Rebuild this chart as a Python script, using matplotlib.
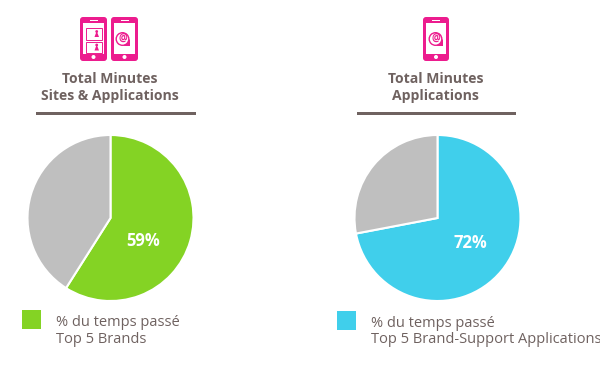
import matplotlib

matplotlib.use("Agg")
import matplotlib.pyplot as plt
from matplotlib.patches import Circle, FancyBboxPatch, Polygon, Rectangle

W, H = 600, 372

# chart values
left_values = [59, 41]
right_values = [72, 28]
left_title = "Total Minutes\nSites & Applications"
right_title = "Total Minutes\nApplications"
left_legend = "% du temps passé\nTop 5 Brands"
right_legend = "% du temps passé\nTop 5 Brand-Support Applications"

GREEN = "#84d324"
BLUE = "#40cfeb"
GREY = "#bfbfbf"
PINK = "#ec1c8e"
TEXT = "#6f6260"

plt.rcParams["font.family"] = ["Open Sans", "DejaVu Sans"]


def draw_pie(fig, cx, cy, r, values, color, label, lx, ly):
    ax = fig.add_axes([(cx - r) / W, 1 - (cy + r) / H, 2 * r / W, 2 * r / H])
    ax.pie(
        values,
        colors=[color, GREY],
        startangle=90,
        counterclock=False,
        radius=1.0,
        wedgeprops={"edgecolor": "white", "linewidth": 1.5},
    )
    ax.set_xlim(-1, 1)
    ax.set_ylim(-1, 1)
    ax.set_aspect("equal")
    ax.axis("off")
    for p in ax.patches:
        p.set_clip_on(False)
    fig.text(lx / W, 1 - ly / H, label, color="white", fontsize=12,
             fontweight="bold", ha="center", va="center")


def draw_phone(ax, x0, x1, y0=17, y1=61):
    ax.add_patch(FancyBboxPatch((x0 + 3, y0 + 3), x1 - x0 - 6, y1 - y0 - 6,
                                boxstyle="round,pad=3,rounding_size=3",
                                fc=PINK, ec="none"))
    ax.add_patch(Rectangle((x0 + 3, y0 + 6), x1 - x0 - 6, 31, fc="white", ec="none"))
    ax.add_patch(Rectangle(((x0 + x1) / 2 - 4, y0 + 2.5), 8, 1.2, fc="white", ec="none"))
    ax.add_patch(Circle(((x0 + x1) / 2, y1 - 4), 2, fc="white", ec="none"))


def draw_at(ax, cx, cy):
    ax.add_patch(Polygon([(cx + 7, cy), (cx + 7, cy + 7), (cx, cy + 7)], fc=PINK, ec="none"))
    ax.add_patch(Circle((cx, cy), 7, fc=PINK, ec="none"))
    ax.add_patch(Circle((cx, cy), 5.6, fc="white", ec="none"))
    ax.text(cx, cy - 0.3, "@", color=PINK, fontsize=7, fontweight="bold",
            ha="center", va="center")


def draw_photo(ax, x0, y0):
    ax.add_patch(Rectangle((x0, y0), 16, 11.5, fc="white", ec=PINK, lw=0.7))
    ax.add_patch(Polygon([(x0 + 9, y0 + 9), (x0 + 13.5, y0 + 9), (x0 + 11.2, y0 + 3)],
                         fc=PINK, ec="none"))
    ax.add_patch(Circle((x0 + 11.2, y0 + 3.5), 1.4, fc=PINK, ec="none"))


def main():
    fig = plt.figure(figsize=(W / 100, H / 100), dpi=100, facecolor="white")
    bg = fig.add_axes([0, 0, 1, 1])
    bg.set_xlim(0, W)
    bg.set_ylim(H, 0)
    bg.axis("off")

    # icons
    draw_phone(bg, 80, 107)
    draw_photo(bg, 85.5, 28)
    draw_photo(bg, 85.5, 41.5)
    draw_phone(bg, 111, 138)
    draw_at(bg, 122.5, 39)
    draw_phone(bg, 423, 449)
    draw_at(bg, 435.5, 39)

    # titles and rules
    bg.text(110, 87.5, left_title, color=TEXT, fontsize=10.1, fontweight="bold",
            ha="center", va="center", linespacing=1.2)
    bg.text(435.5, 87.5, right_title, color=TEXT, fontsize=10.1, fontweight="bold",
            ha="center", va="center", linespacing=1.2)
    bg.add_patch(Rectangle((36, 111.5), 160, 3.5, fc=TEXT, ec="none"))
    bg.add_patch(Rectangle((357, 111.5), 159, 3.5, fc=TEXT, ec="none"))

    # legends
    bg.add_patch(Rectangle((22, 310), 19, 18.5, fc=GREEN, ec="none"))
    bg.add_patch(Rectangle((337, 311), 19, 19, fc=BLUE, ec="none"))
    bg.text(56, 331, left_legend, color=TEXT, fontsize=10.5, ha="left", va="center",
            linespacing=1.17)
    bg.text(371, 331.5, right_legend, color=TEXT, fontsize=10.5, ha="left", va="center",
            linespacing=1.17)

    draw_pie(fig, 110.5, 218, 83, left_values, GREEN, "59%", 143.5, 241)
    draw_pie(fig, 437.5, 218, 83, right_values, BLUE, "72%", 470, 243)

    fig.savefig("out.png", dpi=100)
    plt.close(fig)


if __name__ == "__main__":
    main()
